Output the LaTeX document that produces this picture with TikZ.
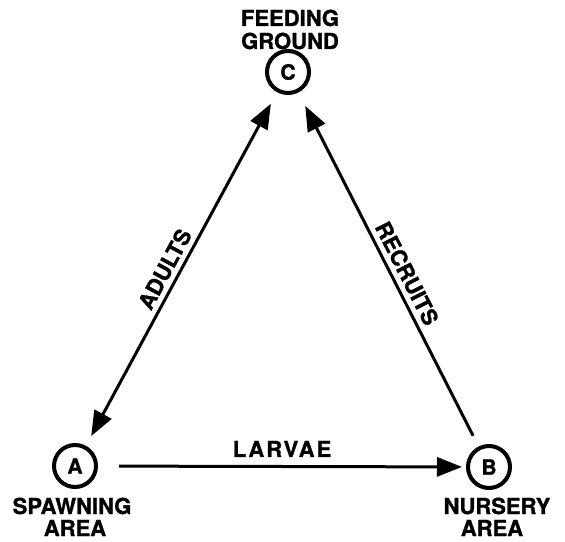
\documentclass[tikz,border=0pt]{standalone}
\usepackage{fontspec}
\setmainfont{TeX Gyre Heros}[BoldFeatures={FakeBold=1.2}]
\newfontfamily\widefont{TeX Gyre Heros}[LetterSpace=9,BoldFeatures={FakeBold=1.2}]
\usetikzlibrary{arrows.meta}
\begin{document}
\begin{tikzpicture}[x=1pt,y=1pt,
  site/.style={circle,draw,line width=4pt,minimum size=42pt,inner sep=0pt,font=\fontsize{21}{21}\selectfont\bfseries},
  lbl/.style={font=\fontsize{22}{23}\selectfont\bfseries,inner sep=0pt,anchor=base},
  flow/.style={line width=3pt}]
\useasboundingbox (0,0) rectangle (565,541);
\node[site] (C) at (288,469) {C};
\node[site] (A) at (75,75) {A};
\node[site] (B) at (489,74) {B};
\node[lbl] (tc1) at (290,515) {FEEDING};
\node[lbl] (tc2) at (290,492) {GROUND};
\node[lbl] (ta1) at (72,27) {SPAWNING};
\node[lbl] (ta2) at (75,5) {AREA};
\node[lbl] (tb1) at (497,27) {NURSERY};
\node[lbl] (tb2) at (492,5) {AREA};
\draw[flow,-{Triangle[length=25pt,width=19pt]},shorten <=21pt,shorten >=4pt] (A) -- (B)
  node[lbl,midway,anchor=south,above=8pt,font=\fontsize{22}{23}\widefont\bfseries] (l1) {LARVAE};
\draw[flow,{Triangle[length=25pt,width=19pt]}-{Triangle[length=25pt,width=19pt]},shorten <=11pt,shorten >=13pt] (A) -- (C)
  node[lbl,pos=0.48,sloped,anchor=south,above=5pt] (l2) {ADULTS};
\draw[flow,-{Triangle[length=25pt,width=19pt]},shorten <=12pt,shorten >=15pt] (B) -- (C)
  node[lbl,pos=0.47,sloped,anchor=south,above=5pt] (l3) {RECRUITS};
\end{tikzpicture}
\end{document}
